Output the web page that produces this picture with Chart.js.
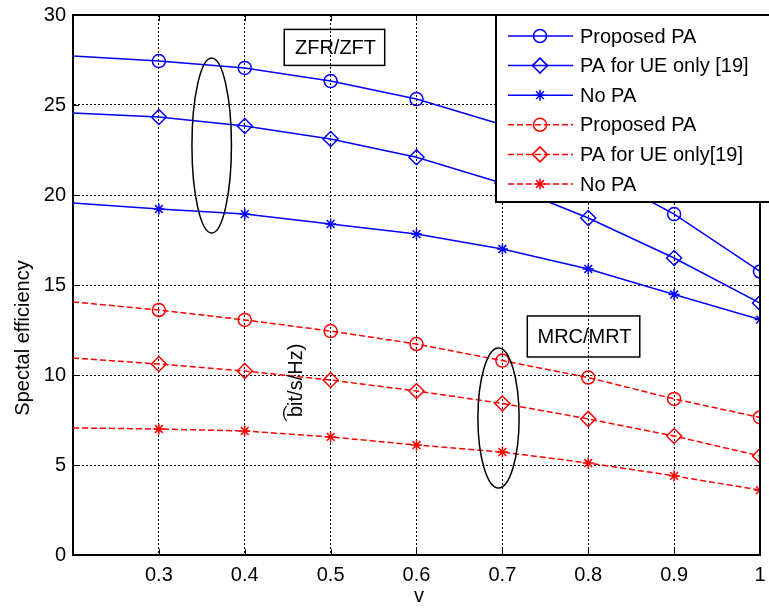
<!DOCTYPE html>
<html>
<head>
<meta charset="utf-8">
<script src="https://cdn.jsdelivr.net/npm/chart.js@4/dist/chart.umd.min.js"></script>
<style>
html,body{margin:0;padding:0;background:#fff;overflow:hidden}
#wrap{width:769px;height:611px;position:relative}
canvas{display:block}
</style>
</head>
<body>
<div id="wrap"><canvas id="c" width="769" height="611"></canvas></div>
<script>
// ---- data ----
const xValues = [0.2, 0.3, 0.4, 0.5, 0.6, 0.7, 0.8, 0.9, 1.0];
const zfProposed = [27.72, 27.44, 27.06, 26.33, 25.33, 23.9, 21.5, 18.94, 15.75];
const zfUEOnly   = [24.56, 24.33, 23.83, 23.11, 22.1, 20.65, 18.72, 16.5, 14.0];
const zfNoPA     = [19.56, 19.22, 18.94, 18.39, 17.83, 17.0, 15.89, 14.47, 13.08];
const mrProposed = [14.06, 13.61, 13.06, 12.44, 11.72, 10.8, 9.86, 8.67, 7.64];
const mrUEOnly   = [10.94, 10.61, 10.22, 9.72, 9.11, 8.42, 7.56, 6.61, 5.5];
const mrNoPA     = [7.06, 7.0, 6.89, 6.56, 6.11, 5.72, 5.11, 4.4, 3.6];
const seriesLabels = ['Proposed PA', 'PA for UE only [19]', 'No PA', 'Proposed PA', 'PA for UE only[19]', 'No PA'];
const yTicks = [0, 5, 10, 15, 20, 25, 30];
const xTickLabels = ['', '0.3', '0.4', '0.5', '0.6', '0.7', '0.8', '0.9', '1'];
const xTitle = 'v';
const yTitle = 'Spectal efficiency';
const unitText = 'bit/s/Hz)';
const annotations = [
  {text: 'ZFR/ZFT', box: [0.446, 0.563, 29.2, 27.2], ellipse: [0.3615, 22.75, 0.023, 4.86]},
  {text: 'MRC/MRT', box: [0.729, 0.860, 13.28, 11.0], ellipse: [0.6955, 7.61, 0.024, 3.89]}
];

const FONT = '"Liberation Sans", Arial, Helvetica, sans-serif';
const BLUE = '#0000ff', RED = '#ff0000';

const styles = [
  {color: BLUE, dash: [], point: 'circle', r: 6.5},
  {color: BLUE, dash: [], point: 'rectRot', r: 7.5},
  {color: BLUE, dash: [], point: 'star', r: 5.5},
  {color: RED, dash: [6, 3], point: 'circle', r: 6.5},
  {color: RED, dash: [6, 3], point: 'rectRot', r: 7.5},
  {color: RED, dash: [6, 3], point: 'star', r: 5.5}
];
const seriesValues = [zfProposed, zfUEOnly, zfNoPA, mrProposed, mrUEOnly, mrNoPA];

const datasets = seriesValues.map((vals, k) => {
  const s = styles[k];
  return {
    label: seriesLabels[k],
    data: xValues.map((x, i) => ({x: x, y: vals[i]})),
    borderColor: s.color,
    backgroundColor: 'rgba(0,0,0,0)',
    borderWidth: 1.5,
    borderDash: s.dash,
    tension: 0,
    fill: false,
    pointStyle: s.point,
    pointRadius: ctx => ctx.dataIndex === 0 ? 0 : s.r,
    pointHoverRadius: ctx => ctx.dataIndex === 0 ? 0 : s.r,
    pointBorderColor: s.color,
    pointBackgroundColor: 'rgba(0,0,0,0)',
    pointBorderWidth: 1.5
  };
});

const decorPlugin = {
  id: 'decor',
  afterDatasetsDraw(chart) {
    const ctx = chart.ctx;
    const xs = chart.scales.x, ys = chart.scales.y;
    const a = chart.chartArea;
    ctx.save();
    // frame top/right
    ctx.strokeStyle = '#000';
    ctx.lineWidth = 2;
    ctx.beginPath();
    ctx.moveTo(a.left, a.top); ctx.lineTo(a.right, a.top); ctx.lineTo(a.right, a.bottom);
    ctx.stroke();
    // inward tick marks
    ctx.lineWidth = 1;
    xs.ticks.forEach(t => {
      const px = Math.round(xs.getPixelForValue(t.value)) + 0.5;
      ctx.beginPath();
      ctx.moveTo(px, a.bottom); ctx.lineTo(px, a.bottom - 6);
      ctx.moveTo(px, a.top); ctx.lineTo(px, a.top + 6);
      ctx.stroke();
    });
    ys.ticks.forEach(t => {
      const py = Math.round(ys.getPixelForValue(t.value)) + 0.5;
      ctx.beginPath();
      ctx.moveTo(a.left, py); ctx.lineTo(a.left + 6, py);
      ctx.moveTo(a.right, py); ctx.lineTo(a.right - 6, py);
      ctx.stroke();
    });
    // annotations
    ctx.fillStyle = '#000';
    ctx.font = '20px ' + FONT;
    annotations.forEach(an => {
      const [x0, x1, y0, y1] = an.box;
      const L = xs.getPixelForValue(x0), R = xs.getPixelForValue(x1);
      const T = ys.getPixelForValue(y0), B = ys.getPixelForValue(y1);
      ctx.lineWidth = 1.5;
      ctx.strokeStyle = '#000';
      ctx.strokeRect(L, T, R - L, B - T);
      ctx.textAlign = 'center';
      ctx.textBaseline = 'middle';
      ctx.fillText(an.text, (L + R) / 2 + 1, (T + B) / 2 + 1);
      const [cx, cy, rx, ry] = an.ellipse;
      const pcx = xs.getPixelForValue(cx), pcy = ys.getPixelForValue(cy);
      const prx = xs.getPixelForValue(cx + rx) - pcx;
      const pry = pcy - ys.getPixelForValue(cy + ry);
      ctx.beginPath();
      ctx.ellipse(pcx, pcy, prx, pry, 0, 0, Math.PI * 2);
      ctx.stroke();
    });
    // unit text (rotated)
    ctx.save();
    ctx.translate(302, 417);
    ctx.rotate(-Math.PI / 2);
    ctx.textAlign = 'left';
    ctx.textBaseline = 'alphabetic';
    ctx.font = '20px ' + FONT;
    ctx.fillText(unitText, 0, 0);
    ctx.restore();
    ctx.font = '16px ' + FONT;
    ctx.textAlign = 'left';
    ctx.textBaseline = 'alphabetic';
    ctx.fillText('(', 282, 418);
    // axis titles
    ctx.save();
    ctx.translate(29, 338);
    ctx.rotate(-Math.PI / 2);
    ctx.textAlign = 'center';
    ctx.font = '20px ' + FONT;
    ctx.fillText(yTitle, 0, 0);
    ctx.restore();
    ctx.textAlign = 'center';
    ctx.font = '20px ' + FONT;
    ctx.fillText(xTitle, 419, 602);
    // legend
    const lx = 496, ly = 15, lw = 280, lh = 187;
    ctx.fillStyle = '#fff';
    ctx.fillRect(lx, ly, lw, lh);
    ctx.strokeStyle = '#000';
    ctx.lineWidth = 2;
    ctx.strokeRect(lx, ly, lw, lh);
    seriesLabels.forEach((lab, k) => {
      const s = styles[k];
      const yy = ly + 21 + k * 29.6;
      ctx.strokeStyle = s.color;
      ctx.lineWidth = 1.5;
      ctx.setLineDash(s.dash);
      ctx.beginPath();
      ctx.moveTo(lx + 12, yy); ctx.lineTo(lx + 77, yy);
      ctx.stroke();
      ctx.setLineDash([]);
      ctx.fillStyle = 'rgba(0,0,0,0)';
      Chart.helpers.drawPoint(ctx, {pointStyle: s.point, radius: s.r, rotation: 0, borderWidth: 1.5}, lx + 44, yy);
      ctx.fillStyle = '#000';
      ctx.font = '20px ' + FONT;
      ctx.textAlign = 'left';
      ctx.textBaseline = 'middle';
      ctx.fillText(lab, lx + 84, yy + 1);
    });
    ctx.restore();
  }
};

new Chart(document.getElementById('c'), {
  type: 'line',
  data: {datasets: datasets},
  options: {
    responsive: false,
    animation: false,
    devicePixelRatio: 1,
    layout: {padding: {top: 15, right: 1, left: 0, bottom: 0}},
    plugins: {legend: {display: false}, tooltip: {enabled: false}, title: {display: false}},
    scales: {
      x: {
        type: 'linear', min: 0.2, max: 1,
        afterBuildTicks(s) { s.ticks = xValues.map(v => ({value: v})); },
        ticks: {
          color: '#000', font: {family: FONT, size: 20}, padding: 8, maxRotation: 0, autoSkip: false,
          callback: (v, i) => xTickLabels[i]
        },
        grid: {color: '#000', lineWidth: 1, drawTicks: false},
        border: {display: true, color: '#000', width: 2, dash: [2, 2]},
        afterFit(s) { s.height = 56; s.paddingLeft = 0; s.paddingRight = 0; }
      },
      y: {
        type: 'linear', min: 0, max: 30,
        afterBuildTicks(s) { s.ticks = yTicks.map(v => ({value: v})); },
        ticks: {color: '#000', font: {family: FONT, size: 20}, padding: 7, callback: v => String(v)},
        grid: {color: '#000', lineWidth: 1, drawTicks: false},
        border: {display: true, color: '#000', width: 2, dash: [2, 2]},
        afterFit(s) { s.width = 73; s.paddingTop = 0; s.paddingBottom = 0; }
      }
    }
  },
  plugins: [decorPlugin]
});
</script>
</body>
</html>
